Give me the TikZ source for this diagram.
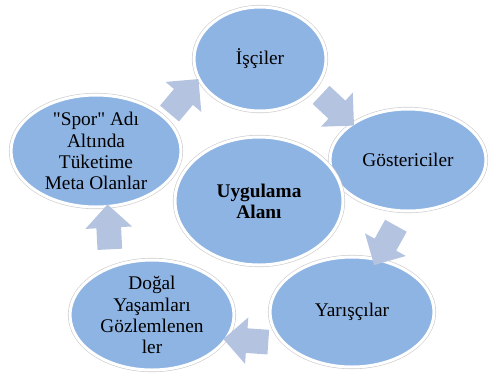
\documentclass[tikz,border=0pt]{standalone}
\usepackage{fontspec}
\setmainfont{Liberation Serif}[Ligatures=TeXOff]
\usepackage{tikz}
\usetikzlibrary{shapes,arrows,positioning}
\definecolor{ovalblue}{RGB}{142,180,227}
\definecolor{arrowblue}{RGB}{180,196,224}
\tikzset{
	oval/.style={ellipse,fill=ovalblue,draw=white,line width=1.7pt,preaction={draw=gray!40,line width=2.4pt},inner sep=-2pt,align=center,font=\fontsize{11}{12}\selectfont},
	blockarr/.style={single arrow,fill=arrowblue,draw=none,inner sep=0.24cm,single arrow head extend=0.22cm,minimum height=0.9cm}
}
\begin{document}
\begin{tikzpicture}[x=0.02cm,y=-0.02cm]
	\useasboundingbox (0,0) rectangle (489,373);
	\node[oval,minimum width=2.64cm,minimum height=2.08cm] (isci) at (260,59) {İşçiler};
	\node[oval,minimum width=3.12cm,minimum height=2.04cm] (gost) at (408,160) {Göstericiler};
	\node[oval,minimum width=3.36cm,minimum height=2.56cm,font=\bfseries\fontsize{11}{12}\selectfont] (alan) at (259,201) {Uygulama\\Alanı};
	\node[oval,minimum width=3.4cm,minimum height=2.24cm] (spor) at (96,151) {"Spor" Adı\\Altında\\Tüketime\\Meta Olanlar};
	\node[oval,minimum width=3.28cm,minimum height=2.2cm] (yaris) at (352,312) {Yarışçılar};
	\node[oval,minimum width=3.28cm,minimum height=2.2cm] (dogal) at (152,315) {Doğal\\Yaşamları\\Gözlemlenen\\ler};
	\node[blockarr,rotate=50] (ok1) at (180,101) {};
	\node[blockarr,rotate=-43] (ok2) at (333,106) {};
	\node[blockarr,rotate=-119] (ok3) at (388,240) {};
	\node[blockarr,rotate=176] (ok4) at (252,341) {};
	\node[blockarr,rotate=93] (ok5) at (109,233) {};
\end{tikzpicture}
\end{document}
